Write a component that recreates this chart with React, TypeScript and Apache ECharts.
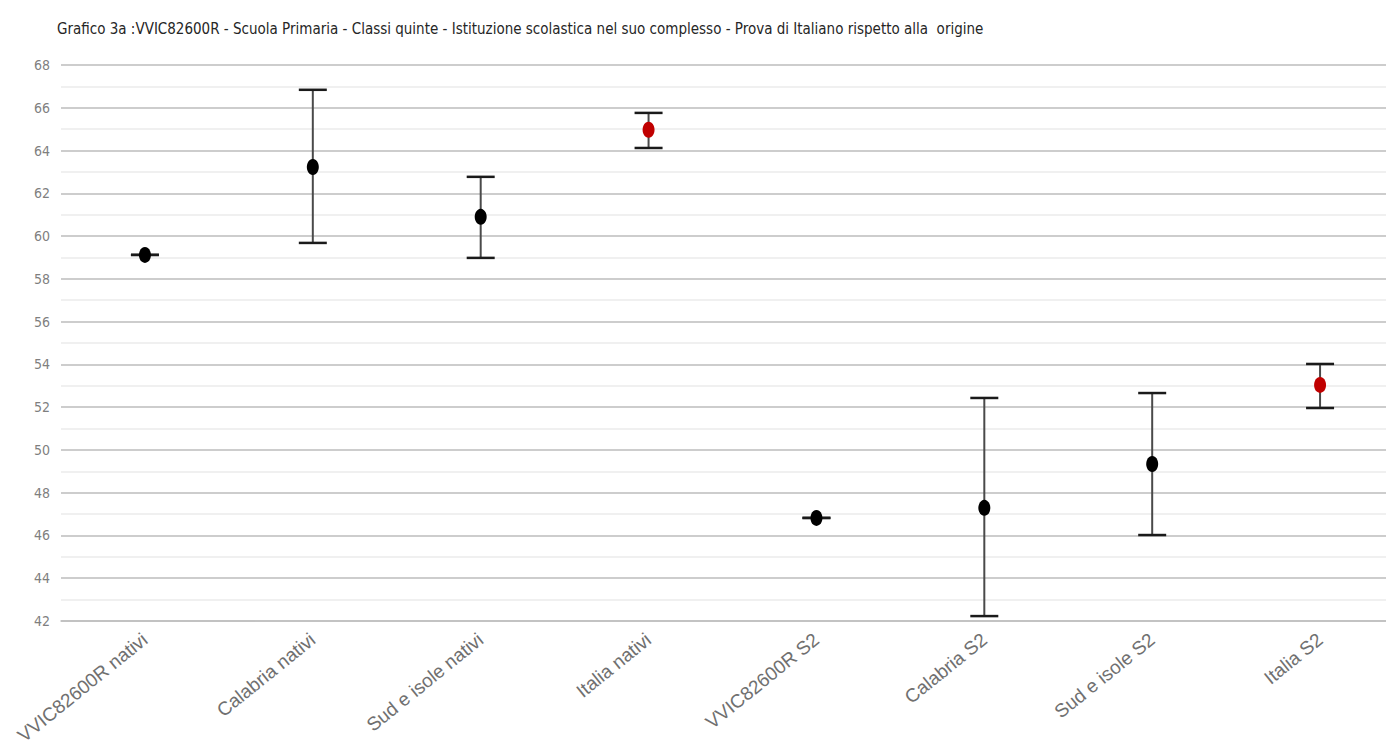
import React, { useEffect, useRef } from "react";
import * as echarts from "echarts";

const categories = [
  "VVIC82600R nativi",
  "Calabria nativi",
  "Sud e isole nativi",
  "Italia nativi",
  "VVIC82600R S2",
  "Calabria S2",
  "Sud e isole S2",
  "Italia S2",
];
const means = [59.12, 63.23, 60.9, 64.97, 46.82, 47.29, 49.34, 53.04];
const lows = [59.12, 59.68, 58.98, 64.12, 46.82, 42.23, 46.02, 51.96];
const highs = [59.12, 66.84, 62.77, 65.76, 46.82, 52.43, 52.66, 54.02];
const isItalia = [false, false, false, true, false, false, false, true];

const titleText =
  "Grafico 3a :VVIC82600R - Scuola Primaria - Classi quinte - Istituzione scolastica nel suo complesso - Prova di Italiano rispetto alla  origine";

const narrow = "'Liberation Sans Narrow', 'DejaVu Sans Condensed', Arial, sans-serif";

export default function App() {
  const ref = useRef<HTMLDivElement>(null);
  useEffect(() => {
    document.body.style.margin = "0";
    document.body.style.overflow = "hidden";
    const chart = echarts.init(ref.current!, null, { renderer: "svg" });
    const errData = categories.map((_, i) => [i, lows[i], highs[i]]);
    const pointData = categories.map((_, i) => ({
      value: [i, means[i]],
      itemStyle: { color: isItalia[i] ? "#c00000" : "#000000", opacity: 1 },
    }));
    chart.setOption({
      animation: false,
      backgroundColor: "#ffffff",
      title: {
        text: titleText,
        left: 52,
        top: 16,
        textStyle: {
          fontFamily: narrow,
          fontSize: 15,
          fontWeight: "normal",
          color: "#262626",
        },
      },
      grid: { left: 61, top: 65, right: 6, height: 556, containLabel: false },
      xAxis: {
        type: "category",
        data: categories,
        boundaryGap: true,
        axisLine: { show: true, lineStyle: { color: "#bfbfbf", width: 1.5 } },
        axisTick: { show: false },
        splitLine: { show: false },
        axisLabel: {
          interval: 0,
          rotate: 39,
          margin: 16,
          fontFamily: "Arial, 'Liberation Sans', sans-serif",
          fontSize: 19,
          color: "#707070",
        },
      },
      yAxis: {
        type: "value",
        min: 42,
        max: 68,
        interval: 2,
        axisLine: { show: false },
        axisTick: { show: false },
        axisLabel: {
          margin: 11,
          fontFamily: narrow,
          fontSize: 14,
          color: "#7f7f7f",
        },
        splitLine: { show: true, lineStyle: { color: "#bdbdbd", width: 1.5 } },
        minorTick: { show: false, splitNumber: 2 },
        minorSplitLine: { show: true, lineStyle: { color: "#ebebeb", width: 1.5 } },
      },
      series: [
        {
          type: "custom",
          data: errData,
          encode: { x: 0, y: [1, 2] },
          renderItem: (params: any, api: any) => {
            const x = api.value(0);
            const lo = api.coord([x, api.value(1)]);
            const hi = api.coord([x, api.value(2)]);
            const hw = 14;
            const style = { stroke: "#4a4a4a", lineWidth: 2 };
            return {
              type: "group",
              children: [
                { type: "line", shape: { x1: lo[0], y1: lo[1], x2: hi[0], y2: hi[1] }, style },
                { type: "line", shape: { x1: hi[0] - hw, y1: hi[1], x2: hi[0] + hw, y2: hi[1] }, style: { stroke: "#1a1a1a", lineWidth: 2.5 } },
                { type: "line", shape: { x1: lo[0] - hw, y1: lo[1], x2: lo[0] + hw, y2: lo[1] }, style: { stroke: "#1a1a1a", lineWidth: 2.5 } },
              ],
            };
          },
          z: 2,
        },
        {
          type: "scatter",
          data: pointData,
          symbol: "circle",
          symbolSize: [12, 16],
          z: 3,
        },
      ],
    });
    return () => chart.dispose();
  }, []);
  return <div ref={ref} style={{ width: 1410, height: 754 }} />;
}
